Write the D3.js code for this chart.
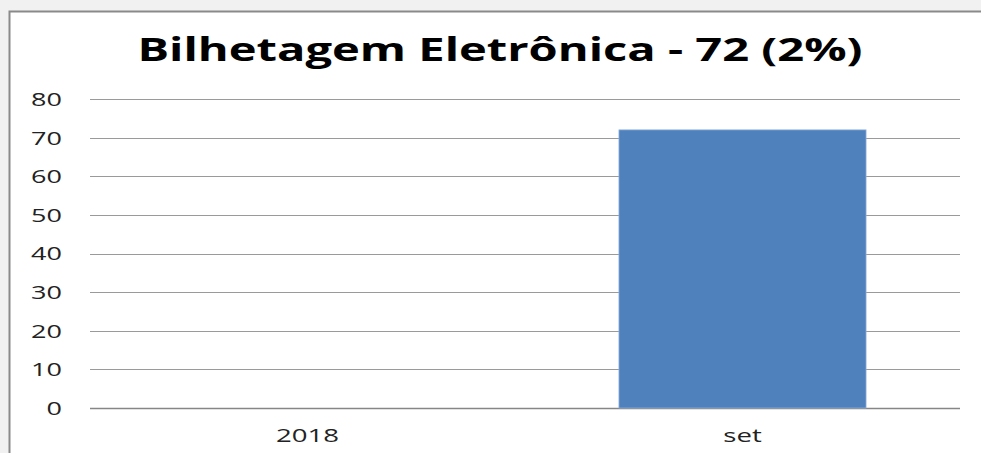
<!DOCTYPE html>
<html><head><meta charset="utf-8">
<script src="https://cdn.jsdelivr.net/npm/d3@7/dist/d3.min.js"></script>
<style>html,body{margin:0;padding:0;background:#f1f1f1;}svg{display:block;}</style>
</head><body>
<script>
const title = "Bilhetagem Eletrônica - 72 (2%)";
const categories = ["2018", "set"];
const values = [0, 72];
const yTicks = [0, 10, 20, 30, 40, 50, 60, 70, 80];

const W = 981, H = 453;
const FONT = "'Open Sans', 'Noto Sans', sans-serif";
const svg = d3.select("body").append("svg").attr("width", W).attr("height", H);

svg.append("rect").attr("x", 0).attr("y", 0).attr("width", W).attr("height", H).attr("fill", "#f1f1f1");
svg.append("rect").attr("x", 9.5).attr("y", 11.5).attr("width", W + 20).attr("height", H + 20)
  .attr("fill", "#ffffff").attr("stroke", "#8a8a8a").attr("stroke-width", 2);

const plot = {left: 90, right: 960, top: 99, bottom: 408};
const x = d3.scaleBand().domain(categories).range([plot.left, plot.right]).paddingInner(0.432).paddingOuter(0.216);
const y = d3.scaleLinear().domain([0, 80]).range([plot.bottom, plot.top]);

const grid = svg.append("g");
grid.selectAll("line").data(yTicks).join("line")
  .attr("x1", plot.left).attr("x2", plot.right)
  .attr("y1", d => Math.round(y(d)) + 0.5).attr("y2", d => Math.round(y(d)) + 0.5)
  .attr("stroke", d => d === 0 ? "#868686" : "#9a9a9a").attr("stroke-width", d => d === 0 ? 1.5 : 1);

svg.append("g").selectAll("rect").data(categories).join("rect")
  .attr("x", d => x(d)).attr("width", x.bandwidth())
  .attr("y", (d, i) => y(values[i])).attr("height", (d, i) => y(0) - y(values[i]))
  .attr("fill", "#4f81bd").attr("stroke", "#8fb0dc").attr("stroke-width", 0.8);

// horizontal stretch of glyphs, as in the reference rendering
function stretch(sel, factor) {
  sel.each(function() {
    const n = this.getComputedTextLength();
    d3.select(this).attr("textLength", n * factor).attr("lengthAdjust", "spacingAndGlyphs");
  });
}

const yAxis = d3.axisLeft(y).tickValues(yTicks).tickSize(0).tickPadding(0);
const ga = svg.append("g").attr("transform", `translate(62,0)`).call(yAxis);
ga.select(".domain").remove();
ga.selectAll("text").attr("font-family", FONT).attr("font-size", 18).attr("fill", "#222").attr("dy", "0.36em");
stretch(ga.selectAll("text"), 1.5);

const xAxis = d3.axisBottom(x).tickSize(0).tickPadding(0);
const gx = svg.append("g").attr("transform", `translate(0,${plot.bottom})`).call(xAxis);
gx.select(".domain").remove();
gx.selectAll("text").attr("font-family", FONT).attr("font-size", 19).attr("fill", "#222").attr("y", 34).attr("dy", 0);
stretch(gx.selectAll("text"), 1.45);

const t = svg.append("text").attr("x", 500).attr("y", 61).attr("text-anchor", "middle")
  .attr("font-family", FONT).attr("font-weight", "bold").attr("font-size", 32)
  .attr("fill", "#000").text(title);
t.attr("textLength", 725).attr("lengthAdjust", "spacingAndGlyphs");
</script>
</body></html>
